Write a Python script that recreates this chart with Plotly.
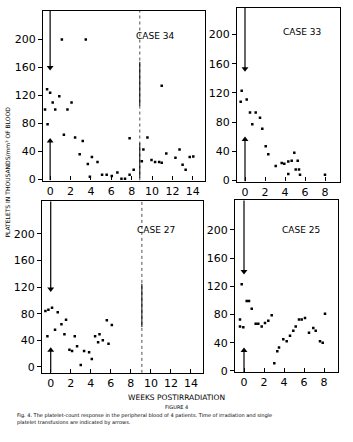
import plotly.graph_objects as go

# ---------------- data (weeks post-irradiation, platelets x1000/mm3) ----------------
case34_weeks = [-0.5, -0.3, -0.25, 0.0, 0.25, 0.5, 0.9, 1.15, 1.35, 1.7, 2.1, 2.45, 2.9, 3.2, 3.5,
                3.7, 3.9, 4.1, 4.65, 5.1, 5.55, 6.05, 6.6, 7.0, 7.35, 7.8, 7.8, 8.2, 9.0, 9.15,
                9.55, 9.95, 10.3, 10.7, 10.95, 10.95, 11.4, 12.3, 12.7, 13.0, 13.3, 13.7, 14.05]
case34_platelets = [100, 129, 79, 124, 110, 100, 119, 200, 64, 100, 110, 60, 36, 55, 200,
                    22, 4, 32, 25, 7, 7, 5, 10, 1, 1, 7, 59, 14, 26, 43,
                    60, 28, 25, 25, 24, 134, 37, 31, 43, 21, 14, 32, 33]

case33_weeks = [-0.43, -0.33, 0.17, 0.5, 0.73, 1.07, 1.5, 1.73, 2.07, 2.33, 3.07, 3.67, 3.93,
                4.33, 4.33, 4.67, 4.93, 5.07, 5.27, 5.4, 5.5, 8.0]
case33_platelets = [108, 123, 111, 93, 77, 93, 86, 71, 47, 36, 20, 24, 23,
                    26, 9, 27, 38, 15, 27, 15, 8, 8]

case27_weeks = [-0.53, -0.33, -0.23, 0.13, 0.43, 0.7, 1.07, 1.37, 1.53, 1.87, 2.13, 2.4, 2.63,
                3.0, 3.33, 3.83, 4.1, 4.43, 4.73, 4.87, 5.2, 5.6, 5.77, 6.1]
case27_platelets = [84, 46, 86, 89, 56, 82, 64, 49, 71, 26, 24, 46, 31,
                    3, 24, 22, 12, 46, 37, 49, 40, 70, 35, 63]

case25_weeks = [-0.4, -0.4, -0.23, -0.07, 0.27, 0.5, 0.77, 1.17, 1.43, 1.77, 2.1, 2.43, 2.77,
                3.03, 3.33, 3.5, 3.93, 4.27, 4.6, 4.93, 5.17, 5.5, 5.77, 6.1, 6.5, 6.93, 7.17,
                7.6, 7.87, 8.1]
case25_platelets = [63, 73, 123, 62, 99, 99, 88, 67, 67, 63, 68, 71, 79,
                    11, 28, 33, 45, 42, 50, 57, 63, 73, 73, 75, 54, 61, 57,
                    42, 40, 81]

case_names = ["CASE 34", "CASE 33", "CASE 27", "CASE 25"]
# arrow markers at week 0 (value where the downward / upward arrows end)
arrow_down_values = [160, 153, 117, 141]
arrow_up_values = [55, 56, 25, 29]
# second event line (weeks) for cases 34 and 27
event_weeks = [8.8, None, 9.1, None]
event_solid_segments = [[(105, 168), (2, 52)], [], [(60, 125)], []]

y_ticks = [0, 40, 80, 120, 160, 200]
x_ticks_long = [0, 2, 4, 6, 8, 10, 12, 14]
x_ticks_short = [0, 2, 4, 6, 8]

# ---------------- layout geometry (pixels -> paper) ----------------
W, H = 353, 442
def px_x(a, b):
    return [a / W, b / W]
def px_y(top, bottom):
    return [1 - bottom / H, 1 - top / H]

panels = [
    dict(weeks=case34_weeks, vals=case34_platelets, xd=px_x(43, 205), yd=px_y(11, 183),
         xr=[-0.7, 15.2], yr=[-1.4, 240.8], xt=x_ticks_long, label=(155, 37)),
    dict(weeks=case33_weeks, vals=case33_platelets, xd=px_x(237, 340), yd=px_y(8, 184),
         xr=[-0.8, 9.5], yr=[-1.4, 236.5], xt=x_ticks_short, label=(302, 32)),
    dict(weeks=case27_weeks, vals=case27_platelets, xd=px_x(42, 203), yd=px_y(204, 378),
         xr=[-0.87, 15.2], yr=[-8.9, 249], xt=x_ticks_long, label=(156, 233)),
    dict(weeks=case25_weeks, vals=case25_platelets, xd=px_x(235, 338), yd=px_y(203, 377),
         xr=[-0.9, 9.4], yr=[-1.4, 242], xt=x_ticks_short, label=(301, 233)),
]

fig = go.Figure()
FONT = "DejaVu Sans"
layout = dict(width=W, height=H, margin=dict(l=0, r=0, t=0, b=0),
              paper_bgcolor="white", plot_bgcolor="white", showlegend=False)
annotations = []

for i, p in enumerate(panels):
    n = "" if i == 0 else str(i + 1)
    xa, ya = "x" + n, "y" + n
    top, bot = p["yr"][1], p["yr"][0]
    # points
    fig.add_trace(go.Scatter(x=p["weeks"], y=p["vals"], mode="markers", xaxis=xa, yaxis=ya,
                             marker=dict(symbol="square", size=2.5, color="black")))
    # downward arrow from top to value
    fig.add_trace(go.Scatter(x=[0, 0], y=[top, arrow_down_values[i]], mode="lines", xaxis=xa, yaxis=ya,
                             line=dict(color="black", width=1.2)))
    fig.add_trace(go.Scatter(x=[0], y=[arrow_down_values[i]], mode="markers", xaxis=xa, yaxis=ya,
                             marker=dict(symbol="triangle-down", size=6, color="black")))
    # upward arrow from baseline to value
    fig.add_trace(go.Scatter(x=[0, 0], y=[bot, arrow_up_values[i]], mode="lines", xaxis=xa, yaxis=ya,
                             line=dict(color="black", width=1.2)))
    fig.add_trace(go.Scatter(x=[0], y=[arrow_up_values[i]], mode="markers", xaxis=xa, yaxis=ya,
                             marker=dict(symbol="triangle-up", size=6, color="black")))
    # event line
    if event_weeks[i] is not None:
        ew = event_weeks[i]
        fig.add_trace(go.Scatter(x=[ew, ew], y=[bot, top], mode="lines", xaxis=xa, yaxis=ya,
                                 line=dict(color="black", width=0.7, dash="dot")))
        for (a, b) in event_solid_segments[i]:
            fig.add_trace(go.Scatter(x=[ew, ew], y=[a, b], mode="lines", xaxis=xa, yaxis=ya,
                                     line=dict(color="black", width=1)))
    axis_common = dict(showgrid=False, zeroline=False, showline=True, linecolor="black",
                       linewidth=1.2, mirror=True,
                       tickfont=dict(family=FONT, size=11, color="black"))
    layout["xaxis" + n] = dict(axis_common, domain=p["xd"], range=p["xr"], anchor=ya,
                               tickvals=p["xt"], ticks="inside", ticklen=4, tickcolor="black")
    layout["yaxis" + n] = dict(axis_common, domain=p["yd"], range=p["yr"], anchor=xa,
                               tickvals=y_ticks, ticks="outside", ticklen=4, tickcolor="black")
    lx, ly = p["label"]
    annotations.append(dict(text=case_names[i], x=lx / W, y=1 - ly / H, xref="paper", yref="paper",
                            xanchor="center", yanchor="middle",
                            showarrow=False, font=dict(family=FONT, size=9, color="black")))

annotations += [
    dict(text="PLATELETS IN THOUSANDS/mm³ OF BLOOD", x=8 / W, y=1 - 175 / H, xref="paper", yref="paper",
         xanchor="center", yanchor="middle",
         textangle=-90, showarrow=False, font=dict(family=FONT, size=6, color="black")),
    dict(text="WEEKS POSTIRRADIATION", x=176 / W, y=1 - 403 / H, xref="paper",
         yref="paper", xanchor="center", yanchor="middle",
         showarrow=False, font=dict(family=FONT, size=7.5, color="black")),
    dict(text="FIGURE 4", x=176 / W, y=1 - 413 / H, xref="paper", yref="paper", showarrow=False,
         xanchor="center", yanchor="middle",
         font=dict(family=FONT, size=5, color="black")),
    dict(text="Fig. 4. The platelet-count response in the peripheral blood of 4 patients. Time of irradiation and single<br>"
              "platelet transfusions are indicated by arrows.",
         x=15 / W, y=1 - 425 / H, xref="paper", yref="paper", xanchor="left", yanchor="middle",
         align="left", showarrow=False, font=dict(family=FONT, size=5, color="black")),
]
layout["annotations"] = annotations
fig.update_layout(**layout)
fig.write_html("out.html")
